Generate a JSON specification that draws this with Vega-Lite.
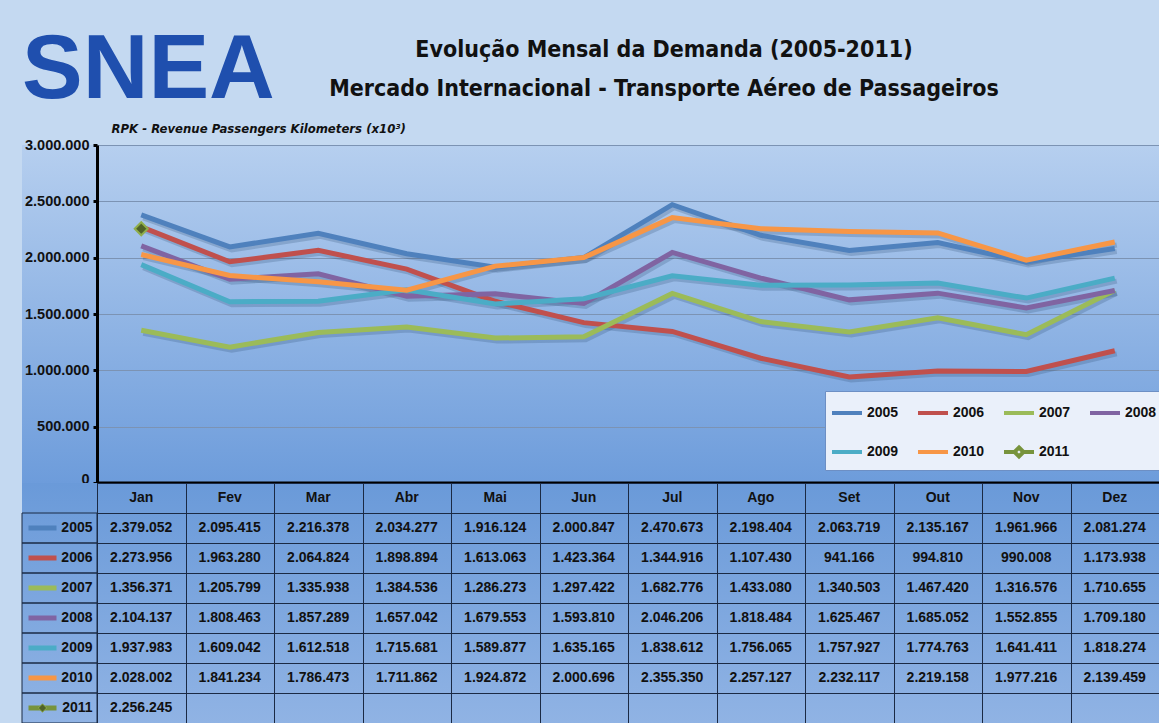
{
  "$schema": "https://vega.github.io/schema/vega-lite/v6.json",
  "background": "#c4d9f1",
  "padding": {"left": 18, "top": 25, "right": 0, "bottom": 0},
  "config": {
    "locale": {"number": {"decimal": ",", "thousands": ".", "grouping": [3], "currency": ["R$ ", ""]}},
    "font": "Liberation Sans, DejaVu Sans, sans-serif",
    "view": {"stroke": null}
  },
  "datasets": {
    "rpk": [
      {"year": "2005", "month": "Jan", "value": 2379052},
      {"year": "2005", "month": "Fev", "value": 2095415},
      {"year": "2005", "month": "Mar", "value": 2216378},
      {"year": "2005", "month": "Abr", "value": 2034277},
      {"year": "2005", "month": "Mai", "value": 1916124},
      {"year": "2005", "month": "Jun", "value": 2000847},
      {"year": "2005", "month": "Jul", "value": 2470673},
      {"year": "2005", "month": "Ago", "value": 2198404},
      {"year": "2005", "month": "Set", "value": 2063719},
      {"year": "2005", "month": "Out", "value": 2135167},
      {"year": "2005", "month": "Nov", "value": 1961966},
      {"year": "2005", "month": "Dez", "value": 2081274},
      {"year": "2006", "month": "Jan", "value": 2273956},
      {"year": "2006", "month": "Fev", "value": 1963280},
      {"year": "2006", "month": "Mar", "value": 2064824},
      {"year": "2006", "month": "Abr", "value": 1898894},
      {"year": "2006", "month": "Mai", "value": 1613063},
      {"year": "2006", "month": "Jun", "value": 1423364},
      {"year": "2006", "month": "Jul", "value": 1344916},
      {"year": "2006", "month": "Ago", "value": 1107430},
      {"year": "2006", "month": "Set", "value": 941166},
      {"year": "2006", "month": "Out", "value": 994810},
      {"year": "2006", "month": "Nov", "value": 990008},
      {"year": "2006", "month": "Dez", "value": 1173938},
      {"year": "2007", "month": "Jan", "value": 1356371},
      {"year": "2007", "month": "Fev", "value": 1205799},
      {"year": "2007", "month": "Mar", "value": 1335938},
      {"year": "2007", "month": "Abr", "value": 1384536},
      {"year": "2007", "month": "Mai", "value": 1286273},
      {"year": "2007", "month": "Jun", "value": 1297422},
      {"year": "2007", "month": "Jul", "value": 1682776},
      {"year": "2007", "month": "Ago", "value": 1433080},
      {"year": "2007", "month": "Set", "value": 1340503},
      {"year": "2007", "month": "Out", "value": 1467420},
      {"year": "2007", "month": "Nov", "value": 1316576},
      {"year": "2007", "month": "Dez", "value": 1710655},
      {"year": "2008", "month": "Jan", "value": 2104137},
      {"year": "2008", "month": "Fev", "value": 1808463},
      {"year": "2008", "month": "Mar", "value": 1857289},
      {"year": "2008", "month": "Abr", "value": 1657042},
      {"year": "2008", "month": "Mai", "value": 1679553},
      {"year": "2008", "month": "Jun", "value": 1593810},
      {"year": "2008", "month": "Jul", "value": 2046206},
      {"year": "2008", "month": "Ago", "value": 1818484},
      {"year": "2008", "month": "Set", "value": 1625467},
      {"year": "2008", "month": "Out", "value": 1685052},
      {"year": "2008", "month": "Nov", "value": 1552855},
      {"year": "2008", "month": "Dez", "value": 1709180},
      {"year": "2009", "month": "Jan", "value": 1937983},
      {"year": "2009", "month": "Fev", "value": 1609042},
      {"year": "2009", "month": "Mar", "value": 1612518},
      {"year": "2009", "month": "Abr", "value": 1715681},
      {"year": "2009", "month": "Mai", "value": 1589877},
      {"year": "2009", "month": "Jun", "value": 1635165},
      {"year": "2009", "month": "Jul", "value": 1838612},
      {"year": "2009", "month": "Ago", "value": 1756065},
      {"year": "2009", "month": "Set", "value": 1757927},
      {"year": "2009", "month": "Out", "value": 1774763},
      {"year": "2009", "month": "Nov", "value": 1641411},
      {"year": "2009", "month": "Dez", "value": 1818274},
      {"year": "2010", "month": "Jan", "value": 2028002},
      {"year": "2010", "month": "Fev", "value": 1841234},
      {"year": "2010", "month": "Mar", "value": 1786473},
      {"year": "2010", "month": "Abr", "value": 1711862},
      {"year": "2010", "month": "Mai", "value": 1924872},
      {"year": "2010", "month": "Jun", "value": 2000696},
      {"year": "2010", "month": "Jul", "value": 2355350},
      {"year": "2010", "month": "Ago", "value": 2257127},
      {"year": "2010", "month": "Set", "value": 2232117},
      {"year": "2010", "month": "Out", "value": 2219158},
      {"year": "2010", "month": "Nov", "value": 1977216},
      {"year": "2010", "month": "Dez", "value": 2139459},
      {"year": "2011", "month": "Jan", "value": 2256245}
    ]
  },
  "columns": 2,
  "spacing": 0,
  "bounds": "flush",
  "resolve": {"scale": {"color": "independent"}},
  "concat": [
    {
      "width": 75,
      "height": 338,
      "view": {"stroke": null, "fill": {"gradient": "linear", "x1": 0, "y1": 0, "x2": 0, "y2": 1, "stops": [{"offset": 0, "color": "#b6cfef"}, {"offset": 1, "color": "#6d9cdb"}]}},
      "title": {"text": "SNEA", "anchor": "start", "frame": "group", "offset": 28, "dx": 0, "fontSize": 91, "font": "Liberation Sans", "fontWeight": "bold", "color": "#1f4fae"},
      "data": {"values": [{}]},
      "mark": {"type": "text", "text": ""}
    },
    {
      "width": 1062,
      "height": 338,
      "view": {"stroke": null, "fill": {"gradient": "linear", "x1": 0, "y1": 0, "x2": 0, "y2": 1, "stops": [{"offset": 0, "color": "#b6cfef"}, {"offset": 1, "color": "#6d9cdb"}]}},
      "title": {
        "text": "Evolução Mensal da Demanda (2005-2011)",
        "subtitle": "Mercado Internacional - Transporte Aéreo de Passageiros",
        "anchor": "middle", "frame": "group", "offset": 21, "dx": 36,
        "font": "DejaVu Sans Condensed, DejaVu Sans, sans-serif",
        "subtitleFont": "DejaVu Sans Condensed, DejaVu Sans, sans-serif",
        "fontSize": 23, "subtitleFontSize": 23, "fontWeight": "bold", "subtitleFontWeight": "bold",
        "color": "#111111", "subtitleColor": "#111111", "subtitlePadding": 16
      },
      "data": {"name": "rpk"},
      "encoding": {
        "x": {
          "field": "month", "type": "ordinal", "bandPosition": 0.5,
          "scale": {"type": "band", "domain": ["Jan", "Fev", "Mar", "Abr", "Mai", "Jun", "Jul", "Ago", "Set", "Out", "Nov", "Dez"], "paddingInner": 0, "paddingOuter": 0},
          "axis": {"title": null, "labels": false, "ticks": false, "grid": false, "domainColor": "#000000", "domainWidth": 4}
        },
        "y": {
          "field": "value", "type": "quantitative",
          "scale": {"domain": [0, 3000000], "nice": false},
          "axis": {
            "title": "RPK  - Revenue Passengers Kilometers (x10³)",
            "titleAngle": 0, "titleAlign": "left", "titleBaseline": "alphabetic", "titleX": 14, "titleY": -13,
            "titleFont": "DejaVu Sans Condensed, DejaVu Sans, sans-serif", "titleFontSize": 13, "titleFontStyle": "italic", "titleFontWeight": "bold", "titleColor": "#111111",
            "values": [0, 500000, 1000000, 1500000, 2000000, 2500000, 3000000],
            "format": ",d",
            "labelFontSize": 14.5, "labelFontWeight": "bold", "labelColor": "#111111", "labelPadding": 4,
            "labelOffset": {"condition": {"test": "datum.value === 0", "value": -4}, "value": 0},
            "tickColor": "#000000", "tickWidth": 3, "tickSize": 4,
            "domainColor": "#000000", "domainWidth": 3,
            "grid": true, "gridColor": "#7c93b3", "gridWidth": 1
          }
        }
      },
      "layer": [
        {
          "mark": {"type": "line", "stroke": "#24436b", "strokeWidth": 5, "opacity": 0.22, "xOffset": 2, "yOffset": 3},
          "encoding": {"detail": {"field": "year", "type": "nominal"}}
        },
        {
          "mark": {"type": "line", "strokeWidth": 5},
          "encoding": {
            "color": {
              "field": "year", "type": "nominal",
              "scale": {"domain": ["2005", "2006", "2007", "2008", "2009", "2010", "2011"], "range": ["#4f81bd", "#c0504d", "#9bbb59", "#8064a2", "#4bacc6", "#f79646", "#77933c"]},
              "legend": {
                "title": null, "orient": "none", "legendX": 728, "legendY": 246,
                "direction": "horizontal", "columns": 4,
                "symbolType": "stroke", "symbolSize": 900, "symbolStrokeWidth": 4,
                "labelFontSize": 14, "labelFontWeight": "bold", "labelColor": "#111111", "labelOffset": 3,
                "fillColor": "#eaf0fa", "strokeColor": "#6d8fc4",
                "padding": 5, "columnPadding": 11, "rowPadding": 14,
                "encode": {"symbols": {"update": {"shape": [{"test": "datum.value === '2011'", "value": "M-1,0H-0.3M0.3,0H1M0,-0.3L0.3,0L0,0.3L-0.3,0Z"}, {"value": "stroke"}]}}}
              }
            }
          }
        },
        {
          "transform": [{"filter": "datum.year == '2011'"}],
          "mark": {"type": "point", "shape": "diamond", "filled": true, "size": 170, "fill": "#4f6228", "stroke": "#8fad4a", "strokeWidth": 2, "opacity": 1}
        }
      ]
    },
    {
      "width": 75,
      "height": 240,
      "view": {"stroke": null, "fill": {"gradient": "linear", "x1": 0, "y1": 0, "x2": 0, "y2": 1, "stops": [{"offset": 0, "color": "#6a9ad9"}, {"offset": 1, "color": "#90b3e4"}]}},
      "data": {"name": "rpk"},
      "transform": [{"filter": "datum.month == 'Jan'"}],
      "encoding": {
        "y": {
          "field": "year", "type": "nominal",
          "scale": {"type": "band", "domain": ["hdr", "2005", "2006", "2007", "2008", "2009", "2010", "2011"], "paddingInner": 0, "paddingOuter": 0},
          "axis": null
        }
      },
      "layer": [
        {"mark": {"type": "rect", "filled": false, "stroke": "#1b2a44", "strokeWidth": 1}},
        {
          "mark": {"type": "point", "shape": "stroke", "size": 784, "strokeWidth": 5, "xOffset": -17, "opacity": 1},
          "encoding": {"color": {"field": "year", "type": "nominal", "scale": {"domain": ["2005", "2006", "2007", "2008", "2009", "2010", "2011"], "range": ["#4f81bd", "#c0504d", "#9bbb59", "#8064a2", "#4bacc6", "#f79646", "#77933c"]}, "legend": null}}
        },
        {
          "transform": [{"filter": "datum.year == '2011'"}],
          "mark": {"type": "point", "shape": "diamond", "filled": true, "size": 70, "fill": "#4f6228", "stroke": "#8fad4a", "strokeWidth": 1, "opacity": 1, "xOffset": -17}
        },
        {
          "mark": {"type": "text", "align": "right", "dx": 33, "fontSize": 14, "fontWeight": "bold", "color": "#111111"},
          "encoding": {"text": {"field": "year", "type": "nominal"}}
        }
      ]
    },
    {
      "width": 1062,
      "height": 240,
      "view": {"stroke": "#1b2a44", "fill": {"gradient": "linear", "x1": 0, "y1": 0, "x2": 0, "y2": 1, "stops": [{"offset": 0, "color": "#6a9ad9"}, {"offset": 1, "color": "#90b3e4"}]}},
      "data": {"name": "rpk"},
      "encoding": {
        "x": {
          "field": "month", "type": "ordinal",
          "scale": {"type": "band", "domain": ["Jan", "Fev", "Mar", "Abr", "Mai", "Jun", "Jul", "Ago", "Set", "Out", "Nov", "Dez"], "paddingInner": 0, "paddingOuter": 0},
          "axis": {"title": null, "labels": false, "ticks": false, "domain": false, "grid": true, "tickBand": "extent", "gridColor": "#1b2a44", "gridWidth": 1}
        },
        "y": {
          "field": "year", "type": "nominal",
          "scale": {"type": "band", "domain": ["hdr", "2005", "2006", "2007", "2008", "2009", "2010", "2011"], "paddingInner": 0, "paddingOuter": 0},
          "axis": {"title": null, "labels": false, "ticks": false, "domain": false, "grid": true, "tickBand": "extent", "gridColor": "#1b2a44", "gridWidth": 1}
        }
      },
      "layer": [
        {
          "mark": {"type": "text", "fontSize": 14, "fontWeight": "bold", "color": "#111111"},
          "encoding": {"text": {"field": "value", "type": "quantitative", "format": ",d"}}
        },
        {
          "transform": [{"filter": "datum.year == '2005'"}],
          "mark": {"type": "text", "fontSize": 14, "fontWeight": "bold", "color": "#111111"},
          "encoding": {"y": {"datum": "hdr", "type": "nominal"}, "text": {"field": "month", "type": "nominal"}}
        }
      ]
    }
  ]
}
